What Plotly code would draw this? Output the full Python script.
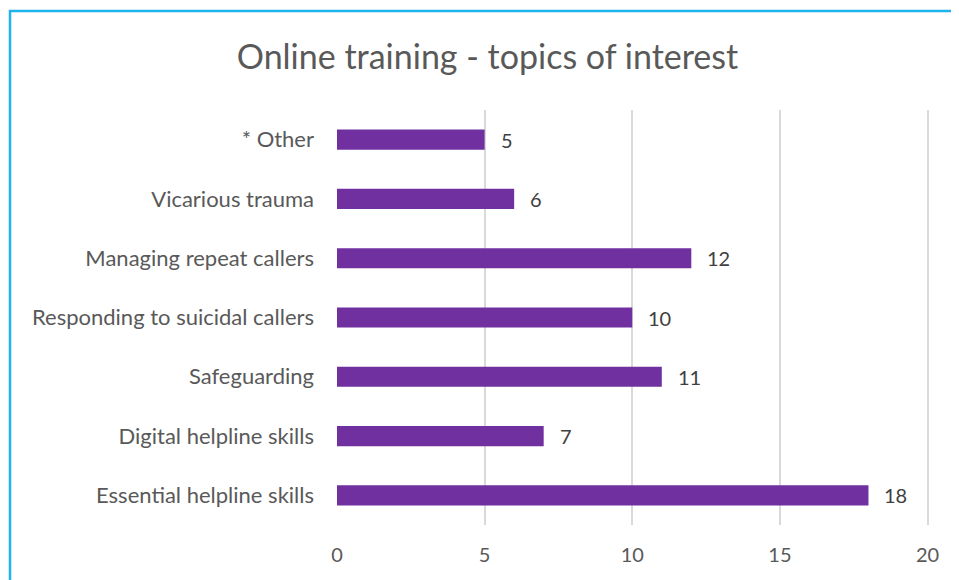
import plotly.graph_objects as go

categories = ["Essential helpline skills", "Digital helpline skills", "Safeguarding",
              "Responding to suicidal callers", "Managing repeat callers",
              "Vicarious trauma", "* Other"]
values = [18, 7, 11, 10, 12, 6, 5]
x_ticks = [0, 5, 10, 15, 20]
title_text = "Online training - topics of interest"

FONT = "Lato, 'Open Sans', sans-serif"

# plot area in figure coordinates (page has an 8px body offset)
L, T, W, H = 329, 102, 592, 415

fig = go.Figure()
fig.add_trace(go.Bar(
    x=values, y=categories, orientation="h",
    marker=dict(color="#7030A0", line=dict(width=0)),
    width=0.34, hoverinfo="skip",
))

for v, c in zip(values, categories):
    fig.add_annotation(x=v, y=c, text=str(v), showarrow=False,
                       xanchor="left", xshift=14,
                       font=dict(family=FONT, size=20, color="#404040"))

fig.update_layout(
    width=959, height=580,
    margin=dict(l=L, r=959 - L - W, t=T, b=580 - T - H),
    paper_bgcolor="white", plot_bgcolor="white",
    showlegend=False,
    title=dict(text=title_text, x=0.5, xanchor="center", xref="container",
               y=1 - 49 / 580, yanchor="middle",
               font=dict(family=FONT, size=34, color="#595959")),
    xaxis=dict(range=[0, 20.05], tickvals=x_ticks, showgrid=True, gridcolor="#D9D9D9",
               gridwidth=1.5, zeroline=False, showline=False,
               tickfont=dict(family=FONT, size=20, color="#595959"),
               ticklabelstandoff=16),
    yaxis=dict(categoryorder="array", categoryarray=categories, showgrid=False,
               zeroline=False, showline=False,
               tickfont=dict(family=FONT, size=22, color="#595959"),
               ticklabelstandoff=22),
    shapes=[dict(type="rect", xref="paper", yref="paper",
                 x0=(2 - L) / W, x1=(975 - L) / W,
                 y0=(T + H - 600) / H, y1=(T + H - 3) / H,
                 line=dict(color="#1FB4EE", width=2.5), fillcolor="rgba(0,0,0,0)",
                 layer="below")],
)

fig.write_html("out.html")
